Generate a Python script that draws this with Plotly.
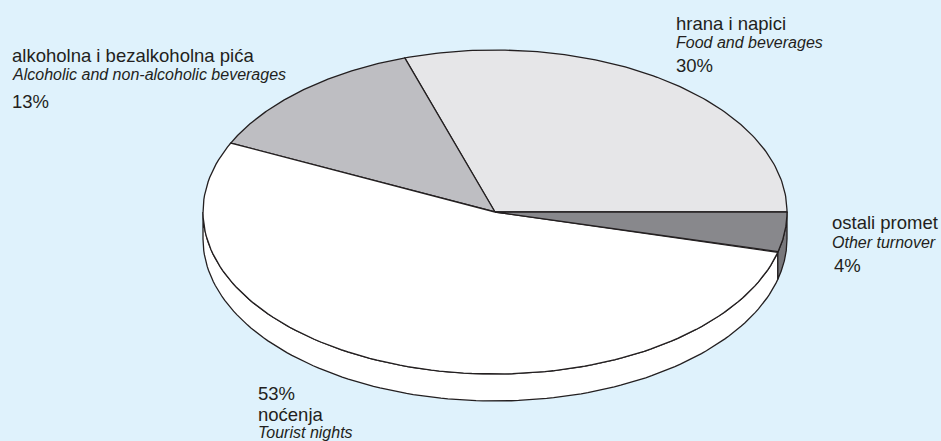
import numpy as np
import plotly.graph_objects as go

# turnover structure (%)
labels_hr = ['hrana i napici', 'alkoholna i bezalkoholna pića', 'noćenja', 'ostali promet']
labels_en = ['Food and beverages', 'Alcoholic and non-alcoholic beverages', 'Tourist nights', 'Other turnover']
shares = [30, 13, 53, 4]
top_colors = ['#e6e6e8', '#bebec2', '#ffffff', '#88888c']
side_colors = ['#d2d2d4', '#a9a9ad', '#ffffff', '#78787c']

W, H = 941, 441
cx, cy, rx, ry, depth = 495, 212, 292, 162, 27
edge = '#231f20'
bg = '#dff2fc'


def arc(t0, t1, dy=0):
    t = np.radians(np.linspace(t0, t1, 120))
    return cx + rx * np.cos(t), cy - ry * np.sin(t) + dy


bounds = np.concatenate([[0], np.cumsum(shares) / sum(shares) * 360])

fig = go.Figure()

# sides (only the front half of the disc is visible)
for i in range(len(shares)):
    s0, s1 = max(bounds[i], 180), min(bounds[i + 1], 360)
    if s1 <= s0:
        continue
    xa, ya = arc(s0, s1)
    xb, yb = arc(s1, s0, depth)
    xs = np.concatenate([xa, xb, xa[:1]])
    ys = np.concatenate([ya, yb, ya[:1]])
    fig.add_trace(go.Scatter(x=xs, y=ys, mode='lines', fill='toself',
                             fillcolor=side_colors[i],
                             line=dict(color=edge, width=1.3),
                             hoverinfo='skip', showlegend=False))

# top faces
for i in range(len(shares)):
    xa, ya = arc(bounds[i], bounds[i + 1])
    xs = np.concatenate([[cx], xa, [cx]])
    ys = np.concatenate([[cy], ya, [cy]])
    fig.add_trace(go.Scatter(x=xs, y=ys, mode='lines', fill='toself',
                             fillcolor=top_colors[i],
                             line=dict(color=edge, width=1.3),
                             hoverinfo='skip', showlegend=False))

font_main = dict(family='Liberation Sans, Arial', size=18.5, color=edge)
font_it = dict(family='Liberation Sans, Arial', size=16, color=edge)


def label(x, y, text, font, italic=False):
    if italic:
        text = '<i>' + text + '</i>'
    fig.add_annotation(x=x, y=y, xref='x', yref='y', text=text, showarrow=False,
                       xanchor='left', yanchor='middle', font=font)


# hrana i napici
label(674, 23, labels_hr[0], font_main)
label(674, 42, labels_en[0], font_it, True)
label(674, 65, f'{shares[0]}%', font_main)
# alkoholna
label(10, 55, labels_hr[1], font_main)
label(10, 74, labels_en[1], font_it, True)
label(10, 101, f'{shares[1]}%', font_main)
# nocenja
label(256, 393, f'{shares[2]}%', font_main)
label(256, 414, labels_hr[2], font_main)
label(256, 432, labels_en[2], font_it, True)
# ostali
label(830, 222, labels_hr[3], font_main)
label(830, 242, labels_en[3], font_it, True)
label(832, 265, f'{shares[3]}%', font_main)

fig.update_layout(
    width=W, height=H,
    margin=dict(l=0, r=0, t=0, b=0),
    paper_bgcolor=bg, plot_bgcolor=bg,
    xaxis=dict(range=[0, W], visible=False, fixedrange=True),
    yaxis=dict(range=[H, 0], visible=False, fixedrange=True),
)

fig.write_html('out.html', config={'displayModeBar': False},
               post_script="document.body.style.margin='0';")
